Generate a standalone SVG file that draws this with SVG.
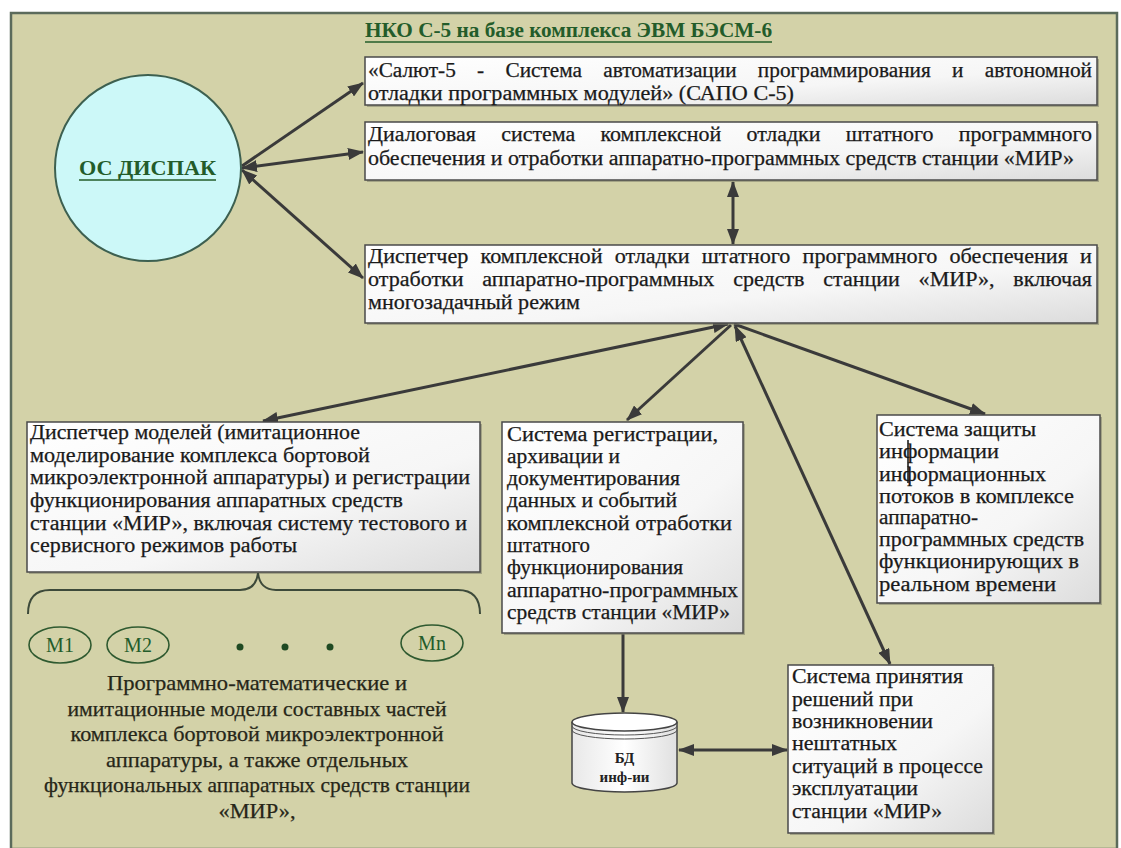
<svg xmlns="http://www.w3.org/2000/svg" width="1121" height="848" viewBox="0 0 1121 848">
<style>
.t{font-family:"Liberation Serif","DejaVu Serif","Noto Serif",serif;font-size:20px;fill:#1a1a1a;stroke:#1a1a1a;stroke-width:0.25}
.bt{font-family:"Liberation Serif","DejaVu Serif","Noto Serif",serif;font-size:21px;fill:#262618;stroke:#262618;stroke-width:0.25}
.g{font-family:"Liberation Serif","DejaVu Serif","Noto Serif",serif;font-weight:bold;fill:#235c2a}
.box{fill:url(#bg);stroke:#4a4a4a;stroke-width:1.5}
.sh{fill:#7d7d6a;opacity:0.55}
.c{stroke:#3a3a3a;stroke-width:3;fill:none;marker-end:url(#ah)}
.d{marker-start:url(#ah)}
.m{fill:none;stroke:#2f5a30;stroke-width:1.6}
.mt{font-family:"Liberation Serif","DejaVu Serif","Noto Serif",serif;font-size:20px;fill:#235c2a;text-anchor:middle}
.db{font-family:"Liberation Serif","DejaVu Serif","Noto Serif",serif;font-size:15px;font-weight:bold;fill:#222;text-anchor:middle}
</style>
<defs>
<linearGradient id="bg" x1="0" y1="0" x2="1" y2="1">
<stop offset="0" stop-color="#ffffff"/><stop offset="0.6" stop-color="#f6f6f6"/><stop offset="1" stop-color="#dcdcdc"/>
</linearGradient>
<linearGradient id="cg" x1="0" y1="0" x2="1" y2="0">
<stop offset="0" stop-color="#e8e8e8"/><stop offset="0.5" stop-color="#ffffff"/><stop offset="1" stop-color="#e0e0e0"/>
</linearGradient>
<marker id="ah" markerUnits="userSpaceOnUse" markerWidth="16" markerHeight="12" refX="15" refY="6" orient="auto-start-reverse">
<path d="M0,0 L16,6 L0,12 z" fill="#3a3a3a"/>
</marker>
</defs>
<rect x="0" y="0" width="1121" height="848" fill="#ffffff"/>
<rect x="11" y="13" width="1106" height="836" fill="#d3d2a8" stroke="#5b6b5b" stroke-width="2.5"/>

<g id="title">
<text class="g" x="365" y="37" font-size="20" textLength="407" lengthAdjust="spacingAndGlyphs">НКО С-5 на базе комплекса ЭВМ БЭСМ-6</text>
<line x1="365" y1="42" x2="772" y2="42" stroke="#235c2a" stroke-width="1.5"/>
</g>

<g id="connectors">
<line class="c" x1="242" y1="166" x2="363" y2="83"/>
<line class="c d" x1="242" y1="168" x2="363" y2="152"/>
<line class="c d" x1="242" y1="170" x2="363" y2="278"/>
<line class="c d" x1="733" y1="182" x2="733" y2="244"/>
<line class="c d" x1="728" y1="324" x2="263" y2="421"/>
<line class="c" x1="731" y1="325" x2="627" y2="420"/>
<line class="c d" x1="735" y1="326" x2="890" y2="664"/>
<line class="c" x1="734" y1="324" x2="985" y2="414"/>
<line class="c" x1="623" y1="634" x2="623" y2="712"/>
<line class="c d" x1="679" y1="750" x2="787" y2="750"/>
</g>

<g id="osdispak">
<circle cx="148" cy="168" r="93" fill="#ccf8f8" stroke="#3d6050" stroke-width="2"/>
<text class="g" x="79" y="175" font-size="22" textLength="137" lengthAdjust="spacingAndGlyphs">ОС ДИСПАК</text>
<line x1="79" y1="180" x2="216" y2="180" stroke="#235c2a" stroke-width="1.5"/>
</g>

<g id="sapo">
<rect class="sh" x="367" y="59" width="732" height="48"/>
<rect class="box" x="365" y="57" width="732" height="48"/>
<text class="t" x="368" y="77" style="word-spacing:15px" textLength="724" lengthAdjust="spacingAndGlyphs">«Салют-5 - Система автоматизации программирования и автономной</text>
<text class="t" x="368" y="100" textLength="426" lengthAdjust="spacingAndGlyphs">отладки программных модулей» (САПО С-5)</text>
</g>

<g id="dialog">
<rect class="sh" x="367" y="124" width="732" height="58"/>
<rect class="box" x="365" y="122" width="732" height="58"/>
<text class="t" x="368" y="141" style="word-spacing:18px" textLength="724" lengthAdjust="spacingAndGlyphs">Диалоговая система комплексной отладки штатного программного</text>
<text class="t" x="368" y="165" textLength="706" lengthAdjust="spacingAndGlyphs">обеспечения и отработки аппаратно-программных средств станции «МИР»</text>
</g>

<g id="dispatcher">
<rect class="sh" x="367" y="247" width="732" height="78"/>
<rect class="box" x="365" y="245" width="732" height="78"/>
<text class="t" x="368" y="263" style="word-spacing:6px" textLength="724" lengthAdjust="spacingAndGlyphs">Диспетчер комплексной отладки штатного программного обеспечения и</text>
<text class="t" x="368" y="286" style="word-spacing:12px" textLength="724" lengthAdjust="spacingAndGlyphs">отработки аппаратно-программных средств станции «МИР», включая</text>
<text class="t" x="368" y="309" textLength="212" lengthAdjust="spacingAndGlyphs">многозадачный режим</text>
</g>

<g id="models">
<rect class="sh" x="29" y="424" width="453" height="150"/>
<rect class="box" x="27" y="422" width="453" height="150"/>
<text class="t" x="30" y="439" textLength="330" lengthAdjust="spacingAndGlyphs">Диспетчер моделей (имитационное</text>
<text class="t" x="30" y="462" textLength="340" lengthAdjust="spacingAndGlyphs">моделирование комплекса бортовой</text>
<text class="t" x="30" y="484" textLength="440" lengthAdjust="spacingAndGlyphs">микроэлектронной аппаратуры) и регистрации</text>
<text class="t" x="30" y="507" textLength="373" lengthAdjust="spacingAndGlyphs">функционирования аппаратных средств</text>
<text class="t" x="30" y="530" textLength="437" lengthAdjust="spacingAndGlyphs">станции «МИР», включая систему тестового и</text>
<text class="t" x="30" y="552" textLength="267" lengthAdjust="spacingAndGlyphs">сервисного режимов работы</text>
</g>

<g id="modelset">
<path d="M28 614 Q28 590 50 590 L240 590 Q256 590 258 573 Q260 590 276 590 L458 590 Q480 590 480 614" fill="none" stroke="#3d4a3a" stroke-width="2"/>
<ellipse class="m" cx="60" cy="645" rx="31" ry="18"/>
<text class="mt" x="60" y="652">M1</text>
<ellipse class="m" cx="138" cy="645" rx="31" ry="18"/>
<text class="mt" x="138" y="652">M2</text>
<circle cx="240" cy="647" r="3.5" fill="#1f4a22"/>
<circle cx="285" cy="647" r="3.5" fill="#1f4a22"/>
<circle cx="330" cy="647" r="3.5" fill="#1f4a22"/>
<ellipse class="m" cx="432" cy="643" rx="31" ry="18"/>
<text class="mt" x="432" y="650">Mn</text>
<text class="bt" x="257" y="690" text-anchor="middle" textLength="300" lengthAdjust="spacingAndGlyphs">Программно-математические и</text>
<text class="bt" x="257" y="716" text-anchor="middle" textLength="379" lengthAdjust="spacingAndGlyphs">имитационные модели составных частей</text>
<text class="bt" x="257" y="741" text-anchor="middle" textLength="373" lengthAdjust="spacingAndGlyphs">комплекса бортовой микроэлектронной</text>
<text class="bt" x="257" y="767" text-anchor="middle" textLength="302" lengthAdjust="spacingAndGlyphs">аппаратуры, а также  отдельных</text>
<text class="bt" x="257" y="792" text-anchor="middle" textLength="426" lengthAdjust="spacingAndGlyphs">функциональных аппаратных средств станции</text>
<text class="bt" x="257" y="818" text-anchor="middle" textLength="77" lengthAdjust="spacingAndGlyphs">«МИР»,</text>
</g>

<g id="registration">
<rect class="sh" x="504" y="424" width="241" height="211"/>
<rect class="box" x="502" y="422" width="241" height="211"/>
<text class="t" x="507" y="441" textLength="211" lengthAdjust="spacingAndGlyphs">Система регистрации,</text>
<text class="t" x="507" y="463" textLength="113" lengthAdjust="spacingAndGlyphs">архивации и</text>
<text class="t" x="507" y="485" textLength="173" lengthAdjust="spacingAndGlyphs">документирования</text>
<text class="t" x="507" y="507" textLength="170" lengthAdjust="spacingAndGlyphs">данных и событий</text>
<text class="t" x="507" y="530" textLength="225" lengthAdjust="spacingAndGlyphs">комплексной отработки</text>
<text class="t" x="507" y="552" textLength="83" lengthAdjust="spacingAndGlyphs">штатного</text>
<text class="t" x="507" y="574" textLength="176" lengthAdjust="spacingAndGlyphs">функционирования</text>
<text class="t" x="507" y="597" textLength="231" lengthAdjust="spacingAndGlyphs">аппаратно-программных</text>
<text class="t" x="507" y="619" textLength="223" lengthAdjust="spacingAndGlyphs">средств станции «МИР»</text>
</g>

<g id="protection">
<rect class="sh" x="879" y="417" width="223" height="188"/>
<rect class="box" x="877" y="415" width="223" height="188"/>
<text class="t" x="879" y="436" textLength="157" lengthAdjust="spacingAndGlyphs">Система защиты</text>
<text class="t" x="879" y="458" textLength="120" lengthAdjust="spacingAndGlyphs">информации</text>
<text class="t" x="879" y="481" textLength="167" lengthAdjust="spacingAndGlyphs">информационных</text>
<text class="t" x="879" y="503" textLength="195" lengthAdjust="spacingAndGlyphs">потоков в комплексе</text>
<text class="t" x="879" y="524" textLength="99" lengthAdjust="spacingAndGlyphs">аппаратно-</text>
<text class="t" x="879" y="546" textLength="205" lengthAdjust="spacingAndGlyphs">программных средств</text>
<text class="t" x="879" y="568" textLength="200" lengthAdjust="spacingAndGlyphs">функционирующих в</text>
<text class="t" x="879" y="591" textLength="177" lengthAdjust="spacingAndGlyphs">реальном времени</text>
<line x1="908" y1="440" x2="908" y2="483" stroke="#111" stroke-width="1.5"/>
</g>

<g id="decision">
<rect class="sh" x="790" y="667" width="205" height="168"/>
<rect class="box" x="788" y="665" width="205" height="168"/>
<text class="t" x="792" y="683" textLength="171" lengthAdjust="spacingAndGlyphs">Система принятия</text>
<text class="t" x="792" y="706" textLength="121" lengthAdjust="spacingAndGlyphs">решений при</text>
<text class="t" x="792" y="728" textLength="141" lengthAdjust="spacingAndGlyphs">возникновении</text>
<text class="t" x="792" y="750" textLength="105" lengthAdjust="spacingAndGlyphs">нештатных</text>
<text class="t" x="792" y="773" textLength="191" lengthAdjust="spacingAndGlyphs">ситуаций в процессе</text>
<text class="t" x="792" y="795" textLength="126" lengthAdjust="spacingAndGlyphs">эксплуатации</text>
<text class="t" x="792" y="818" textLength="150" lengthAdjust="spacingAndGlyphs">станции «МИР»</text>
</g>

<g id="db">
<path d="M572 722 L572 783 A52.5 9 0 0 0 677 783 L677 722" fill="url(#cg)" stroke="#444" stroke-width="1.5"/>
<ellipse cx="624.5" cy="722" rx="52.5" ry="9" fill="#ffffff" stroke="#444" stroke-width="1.5"/>
<path d="M572 726 A52.5 9 0 0 0 677 726 M572 730 A52.5 9 0 0 0 677 730" fill="none" stroke="#555" stroke-width="1"/>
<text class="db" x="624.5" y="763">БД</text>
<text class="db" x="624.5" y="782">инф-ии</text>
</g>
</svg>
